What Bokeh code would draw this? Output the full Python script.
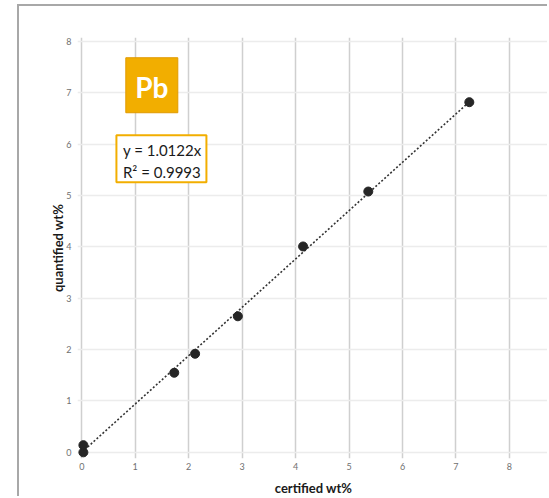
from bokeh.plotting import figure
from bokeh.models import FixedTicker, Range1d
from bokeh.core.properties import value
from bokeh.embed import file_html
from bokeh.resources import INLINE

# data
certified = [0.03, 0.03, 1.73, 2.12, 2.92, 4.14, 5.36, 7.25]
quantified = [0.0, 0.14, 1.55, 1.92, 2.65, 4.01, 5.08, 6.82]
ticks = [0, 1, 2, 3, 4, 5, 6, 7, 8]
element = "Pb"
eq_line1 = "y = 1.0122x"
eq_line2 = "R² = 0.9993"
x_title = "certified wt%"
y_title = "quantified wt%"

FONT = "Lato"
ORANGE = "#F2AE00"

p = figure(width=530, height=492, output_backend="svg", toolbar_location=None,
           x_range=Range1d(-0.08, 8.75), y_range=Range1d(-0.12, 8.08),
           min_border_left=58, min_border_right=0, min_border_top=31, min_border_bottom=40,
           styles={"margin-left": "17px", "margin-top": "4px",
                   "border-left": "2px solid #a8a8a8", "border-top": "2px solid #a8a8a8"})
p.outline_line_color = None
p.background_fill_color = "white"
p.border_fill_color = "white"

for ax in (p.xaxis, p.yaxis):
    ax.ticker = FixedTicker(ticks=ticks)
    ax.axis_line_color = None
    ax.major_tick_line_color = None
    ax.minor_tick_line_color = None
    ax.major_tick_out = 0
    ax.major_tick_in = 0
    ax.minor_tick_out = 0
    ax.major_label_text_font = FONT
    ax.major_label_text_font_size = "9px"
    ax.major_label_text_color = "#707070"
    ax.axis_label_text_font = FONT
    ax.axis_label_text_font_style = "bold"
    ax.axis_label_text_font_size = "13px"
    ax.axis_label_text_color = "#1a1a1a"
p.xaxis.axis_label = x_title
p.yaxis.axis_label = y_title
p.xaxis.major_label_standoff = 4
p.yaxis.major_label_standoff = 6
p.xaxis.axis_label_standoff = 7
p.yaxis.axis_label_standoff = -3

p.xgrid.ticker = FixedTicker(ticks=ticks)
p.ygrid.ticker = FixedTicker(ticks=ticks)
p.xgrid.grid_line_color = "#cfcfcf"
p.ygrid.grid_line_color = "#ececec"
p.xgrid.grid_line_width = 1.5
p.ygrid.grid_line_width = 1.5

# trendline through origin (least squares)
sxy = sum(a * b for a, b in zip(certified, quantified))
sxx = sum(a * a for a in certified)
slope = sxy / sxx
xmax = max(certified)
p.line([0, xmax], [0, slope * xmax], line_color="#333333", line_width=1.6, line_dash="2 2")

p.scatter(certified, quantified, size=9, fill_color="#262626", line_color="#262626")

# element badge
p.rect(x=[1.31], y=[7.15], width=52, height=55, width_units="screen", height_units="screen",
       fill_color=ORANGE, line_color="#E09A00", line_width=1)
p.text(x=[1.31], y=[7.12], text=[element], text_font=value(FONT), text_font_size="28px",
       text_font_style="bold", text_color="white", text_align="center", text_baseline="middle")

# equation box
p.rect(x=[1.49], y=[5.72], width=90, height=47, width_units="screen", height_units="screen",
       fill_color="white", line_color=ORANGE, line_width=2)
p.text(x=[0.77], y=[5.89], text=[eq_line1], text_font=value(FONT), text_font_size="15px",
       text_color="#1a1a1a", text_align="left", text_baseline="middle")
p.text(x=[0.77], y=[5.47], text=[eq_line2], text_font=value(FONT), text_font_size="15px",
       text_color="#1a1a1a", text_align="left", text_baseline="middle")

open("out.html", "w").write(file_html(p, INLINE))
